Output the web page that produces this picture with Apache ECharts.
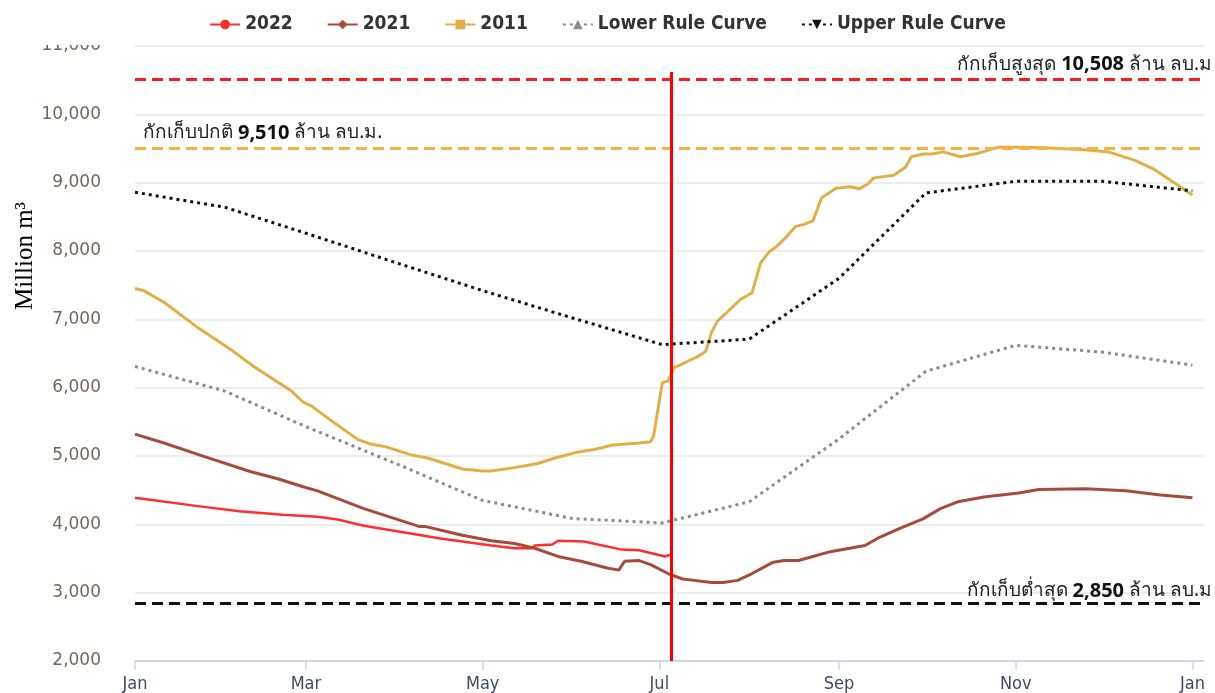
<!DOCTYPE html>
<html>
<head>
<meta charset="utf-8">
<title>ปริมาณน้ำในอ่าง</title>
<script src="https://cdn.jsdelivr.net/npm/echarts@6/dist/echarts.min.js"></script>
<style>
  html, body { margin: 0; padding: 0; background: #fff; }
  #main { width: 1215px; height: 693px; }
</style>
</head>
<body>
<div id="main"></div>
<script>
// ปริมาณน้ำ (ล้าน ลบ.ม.) วางบนแกนวันของปี 2022
const s2022 = [
  ['2022-01-01', 4390], ['2022-01-22', 4270], ['2022-02-06', 4190], ['2022-02-21', 4140],
  ['2022-03-05', 4110], ['2022-03-12', 4070], ['2022-03-21', 3980], ['2022-04-02', 3895],
  ['2022-04-17', 3790], ['2022-04-24', 3750], ['2022-05-04', 3690], ['2022-05-12', 3650],
  ['2022-05-18', 3650], ['2022-05-19', 3690], ['2022-05-25', 3705], ['2022-05-27', 3760],
  ['2022-06-05', 3750], ['2022-06-18', 3630], ['2022-06-24', 3620], ['2022-07-03', 3530],
  ['2022-07-05', 3560]
]

const s2021 = [
  ['2022-01-01', 5320], ['2022-01-11', 5190], ['2022-01-25', 4990], ['2022-02-10', 4770],
  ['2022-02-19', 4670], ['2022-02-28', 4550], ['2022-03-05', 4490], ['2022-03-21', 4230],
  ['2022-04-09', 3970], ['2022-04-11', 3970], ['2022-04-24', 3840], ['2022-05-04', 3760],
  ['2022-05-12', 3720], ['2022-05-19', 3650], ['2022-05-27', 3530], ['2022-06-04', 3460],
  ['2022-06-13', 3360], ['2022-06-17', 3330], ['2022-06-19', 3460], ['2022-06-24', 3470],
  ['2022-06-28', 3410], ['2022-07-04', 3280], ['2022-07-09', 3200], ['2022-07-13', 3180],
  ['2022-07-19', 3150], ['2022-07-23', 3150], ['2022-07-28', 3180], ['2022-08-02', 3280],
  ['2022-08-09', 3440], ['2022-08-13', 3470], ['2022-08-18', 3470], ['2022-08-23', 3530],
  ['2022-08-29', 3600], ['2022-09-10', 3690], ['2022-09-15', 3810], ['2022-09-22', 3940],
  ['2022-09-30', 4080], ['2022-10-06', 4230], ['2022-10-12', 4330], ['2022-10-21', 4400],
  ['2022-11-02', 4460], ['2022-11-09', 4510], ['2022-11-25', 4520], ['2022-12-09', 4490],
  ['2022-12-21', 4430], ['2023-01-01', 4390]
]

const s2011 = [
  ['2022-01-01', 7450], ['2022-01-04', 7420], ['2022-01-11', 7250], ['2022-01-22', 6900],
  ['2022-02-03', 6560], ['2022-02-11', 6310], ['2022-02-24', 5950], ['2022-02-28', 5790],
  ['2022-03-03', 5730], ['2022-03-09', 5540], ['2022-03-19', 5240], ['2022-03-23', 5180],
  ['2022-03-29', 5130], ['2022-04-06', 5020], ['2022-04-12', 4970], ['2022-04-24', 4810],
  ['2022-05-01', 4780], ['2022-05-04', 4780], ['2022-05-12', 4830], ['2022-05-20', 4890],
  ['2022-05-26', 4970], ['2022-06-02', 5050], ['2022-06-08', 5090], ['2022-06-15', 5160],
  ['2022-06-24', 5190], ['2022-06-28', 5210], ['2022-06-29', 5290], ['2022-07-02', 6070],
  ['2022-07-04', 6100], ['2022-07-06', 6290], ['2022-07-11', 6390], ['2022-07-14', 6450],
  ['2022-07-17', 6530], ['2022-07-19', 6810], ['2022-07-21', 6970], ['2022-07-26', 7170],
  ['2022-07-29', 7290], ['2022-08-02', 7390], ['2022-08-05', 7830], ['2022-08-08', 7990],
  ['2022-08-10', 8050], ['2022-08-13', 8170], ['2022-08-17', 8360], ['2022-08-20', 8390],
  ['2022-08-23', 8440], ['2022-08-26', 8780], ['2022-08-31', 8920], ['2022-09-05', 8940],
  ['2022-09-08', 8910], ['2022-09-11', 8980], ['2022-09-13', 9070], ['2022-09-20', 9110],
  ['2022-09-24', 9230], ['2022-09-26', 9380], ['2022-09-30', 9420], ['2022-10-03', 9420],
  ['2022-10-07', 9450], ['2022-10-13', 9380], ['2022-10-19', 9430], ['2022-10-26', 9520],
  ['2022-11-03', 9520], ['2022-11-11', 9510], ['2022-11-25', 9480], ['2022-12-03', 9450],
  ['2022-12-12', 9330], ['2022-12-19', 9190], ['2023-01-01', 8820]
]

const lowerRule = [
  ['2022-01-01', 6310], ['2022-02-01', 5950], ['2022-03-01', 5430], ['2022-04-01', 4890],
  ['2022-05-01', 4350], ['2022-06-01', 4085], ['2022-07-02', 4020], ['2022-08-01', 4330],
  ['2022-09-01', 5250], ['2022-10-01', 6240], ['2022-11-01', 6620], ['2022-12-01', 6520],
  ['2023-01-01', 6330]
]

const upperRule = [
  ['2022-01-01', 8860], ['2022-02-01', 8640], ['2022-03-01', 8260], ['2022-04-01', 7830],
  ['2022-05-01', 7420], ['2022-06-01', 7020], ['2022-07-02', 6630], ['2022-08-01', 6710],
  ['2022-09-01', 7600], ['2022-10-01', 8850], ['2022-11-01', 9020], ['2022-12-01', 9020],
  ['2023-01-01', 8880]
]

// ระดับกักเก็บ
const levelMax = 10508
const levelNormal = 9510
const levelMin = 2850
const today = '2022-07-05'
const todayTop = 10620

const monthNames = ['Jan', 'Feb', 'Mar', 'Apr', 'May', 'Jun', 'Jul', 'Aug', 'Sep', 'Oct', 'Nov', 'Dec']

const t = s => echarts.time.parse(s).getTime()
const fmt = v => Number(v).toLocaleString('en-US')

const thaiFont = "'Noto Sans', 'DejaVu Sans', sans-serif"

const levelLabel = (pre, post, pos, dist) => {
  return {
    show: true,
    position: pos,
    distance: dist,
    color: '#222',
    fontSize: 19,
    fontFamily: thaiFont,
    formatter: p => pre + ' {b|' + fmt(p.value) + '} ' + post,
    rich: {
      b: { fontWeight: 'bold', fontSize: 20, color: '#111', fontFamily: thaiFont }
    }
  }
}

const chart = echarts.init(document.getElementById('main'))

const lineSeries = (name, data, color, symbol, extra) => {
  return Object.assign({
    name: name,
    type: 'line',
    data: data,
    showSymbol: false,
    symbol: symbol,
    symbolSize: 10,
    itemStyle: { color: color },
    lineStyle: { color: color, width: 3 },
    emphasis: { disabled: true },
    z: 3
  }, extra || {})
}

const option = {
  animation: false,
  backgroundColor: '#fff',
  grid: {
    left: 135,
    right: 11,
    top: 46,
    bottom: 30
  },
  legend: {
    top: 10,
    left: 'center',
    itemWidth: 30,
    itemHeight: 12,
    itemGap: 34,
    textStyle: {
      fontFamily: "'DejaVu Sans Condensed', 'DejaVu Sans', sans-serif",
      fontWeight: 'bold',
      fontSize: 19,
      color: '#333'
    },
    data: ['2022', '2021', '2011', 'Lower Rule Curve', 'Upper Rule Curve']
  },
  xAxis: {
    type: 'time',
    min: t('2022-01-01'),
    max: t('2023-01-05'),
    splitNumber: 6,
    axisLine: { lineStyle: { color: '#ccd6eb', width: 2 } },
    axisTick: { show: true, length: 9, lineStyle: { color: '#ccd6eb', width: 1.5 } },
    splitLine: { show: false },
    axisLabel: {
      margin: 14,
      showMaxLabel: false,
      fontFamily: "'DejaVu Sans Condensed', 'DejaVu Sans', sans-serif",
      fontSize: 18,
      color: '#3d4b60',
      formatter: v => monthNames[new Date(v).getMonth()]
    }
  },
  yAxis: {
    type: 'value',
    min: 2000,
    max: 11000,
    interval: 1000,
    axisLine: { show: false },
    axisTick: { show: false },
    splitLine: { lineStyle: { color: '#e6e6e6', width: 1.5 } },
    axisLabel: {
      margin: 34,
      fontFamily: "'DejaVu Sans', sans-serif",
      fontSize: 17,
      color: '#74675a',
      formatter: v => fmt(v)
    }
  },
  graphic: [
    {
      type: 'text',
      x: 25,
      y: 256,
      rotation: Math.PI / 2,
      style: {
        text: 'Million m³',
        font: "25px 'Liberation Serif', 'DejaVu Serif', serif",
        fill: '#000',
        align: 'center',
        verticalAlign: 'middle'
      }
    },
    {
      // ขอบบนของภาพต้นฉบับตัดป้าย 11,000 ไปครึ่งหนึ่ง
      type: 'rect',
      left: 0,
      top: 0,
      z: 100,
      shape: { width: 130, height: 45 },
      style: { fill: '#fff' }
    }
  ],
  series: [
    lineSeries('2022', s2022, '#ff2d2d', 'circle', {
      lineStyle: { color: '#ff2d2d', width: 2.5 },
      markLine: {
        silent: true,
        symbol: 'none',
        animation: false,
        data: [
          {
            yAxis: levelMax,
            lineStyle: { color: '#ff1a1a', width: 3, type: [11, 6] },
            label: levelLabel('กักเก็บสูงสุด', 'ล้าน ลบ.ม', 'insideEndTop', [-8, 5])
          },
          {
            yAxis: levelNormal,
            lineStyle: { color: '#f8b13e', width: 3, type: [11, 6] },
            label: levelLabel('กักเก็บปกติ', 'ล้าน ลบ.ม.', 'insideStartTop', [8, 5])
          },
          {
            yAxis: levelMin,
            lineStyle: { color: '#111', width: 3, type: [11, 6] },
            label: levelLabel('กักเก็บต่ำสุด', 'ล้าน ลบ.ม', 'insideEndTop', [-8, 2])
          },
          [
            { coord: [t(today), 2000], lineStyle: { color: '#ff0000', width: 3, type: 'solid' }, label: { show: false } },
            { coord: [t(today), todayTop] }
          ]
        ]
      }
    }),
    lineSeries('2021', s2021, '#a64a3b', 'diamond'),
    lineSeries('2011', s2011, '#e0b047', 'rect'),
    lineSeries('Lower Rule Curve', lowerRule, '#8a8a8a', 'triangle', {
      symbolSize: 8,
      lineStyle: { color: '#8a8a8a', width: 3, type: [3, 4] }
    }),
    lineSeries('Upper Rule Curve', upperRule, '#111111', 'triangle', {
      symbolSize: 8,
      symbolRotate: 180,
      lineStyle: { color: '#111111', width: 3, type: [3, 4] }
    })
  ]
}

chart.setOption(option)
</script>
</body>
</html>
